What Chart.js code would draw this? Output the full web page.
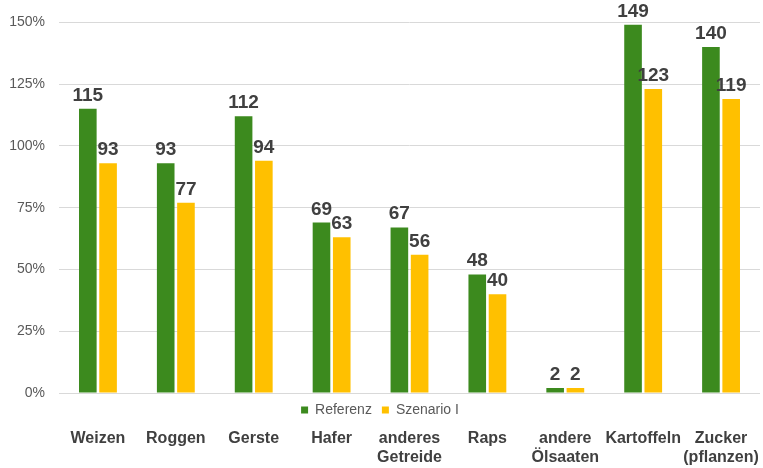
<!DOCTYPE html>
<html>
<head>
<meta charset="utf-8">
<script src="https://cdn.jsdelivr.net/npm/chart.js@4.4.0/dist/chart.umd.min.js"></script>
<style>
  html, body { margin: 0; padding: 0; background: #ffffff; }
  #wrap { width: 763px; height: 468px; position: relative; }
</style>
</head>
<body>
<div id="wrap"><canvas id="cropChart"></canvas></div>
<script>
// Chart data
const categories = [
    'Weizen', 'Roggen', 'Gerste', 'Hafer', ['anderes', 'Getreide'],
    'Raps', ['andere', 'Ölsaaten'], 'Kartoffeln', ['Zucker', '(pflanzen)']
];
const referenz = [115, 93, 112, 69, 67, 48, 2, 149, 140];
const szenario = [93, 77, 94, 63, 56, 40, 2, 123, 119];
const yTicks = [0, 25, 50, 75, 100, 125, 150];

const FONT = '"Liberation Sans", Arial, sans-serif';

// draws the numbers above each bar
const valueLabels = {
    id: 'valueLabels',
    afterDatasetsDraw(chart) {
        const ctx = chart.ctx;
        ctx.save();
        ctx.font = 'bold 19px ' + FONT;
        ctx.fillStyle = '#404040';
        ctx.textAlign = 'center';
        ctx.textBaseline = 'alphabetic';
        chart.data.datasets.forEach((ds, i) => {
            chart.getDatasetMeta(i).data.forEach((bar, j) => {
                ctx.fillText(ds.data[j], bar.x, bar.y - 8);
            });
        });
        ctx.restore();
    }
};

function initializeChart() {
    const ctx = document.getElementById('cropChart').getContext('2d');
    new Chart(ctx, {
        type: 'bar',
        data: {
            labels: categories,
            datasets: [{
                label: 'Referenz',
                data: referenz,
                backgroundColor: '#3c8a1e'
            }, {
                label: 'Szenario I',
                data: szenario,
                backgroundColor: '#ffc000'
            }]
        },
        options: {
            responsive: true,
            maintainAspectRatio: false,
            animation: false,
            layout: {
                padding: { top: 22, right: 3, left: 0, bottom: 0 }
            },
            datasets: {
                bar: { categoryPercentage: 0.52, barPercentage: 0.87 }
            },
            scales: {
                x: {
                    grid: { display: false },
                    border: { display: false },
                    afterFit: (axis) => { axis.height = 41; },
                    ticks: {
                        color: '#404040',
                        font: { family: FONT, size: 16, weight: 'bold', lineHeight: 1.2 },
                        padding: -6,
                        maxRotation: 0,
                        autoSkip: false
                    }
                },
                y: {
                    min: 0,
                    max: 150,
                    afterBuildTicks: (axis) => {
                        axis.ticks = yTicks.map(v => ({ value: v }));
                    },
                    afterFit: (axis) => { axis.width = 59; },
                    grid: { color: '#d9d9d9', drawTicks: false },
                    border: { display: false },
                    ticks: {
                        color: '#595959',
                        font: { family: FONT, size: 14 },
                        padding: 14,
                        callback: (v) => v + '%'
                    }
                }
            },
            plugins: {
                legend: {
                    position: 'bottom',
                    weight: -1,
                    labels: {
                        boxWidth: 7,
                        boxHeight: 7,
                        color: '#595959',
                        font: { family: FONT, size: 14 },
                        padding: 10
                    }
                },
                tooltip: { enabled: false }
            }
        },
        plugins: [valueLabels]
    });
}

document.addEventListener('DOMContentLoaded', () => {
    initializeChart();
});
</script>
</body>
</html>
